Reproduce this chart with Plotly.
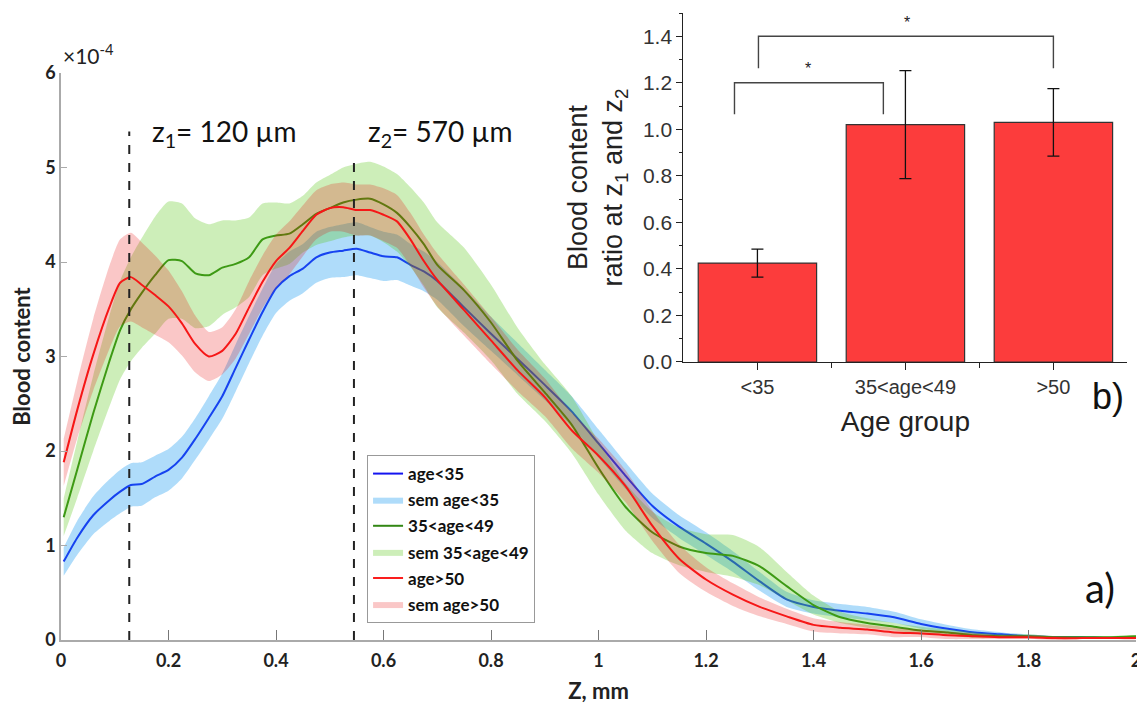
import plotly.graph_objects as go

# ---------------- data: depth profiles (a) ----------------
z_mm = [0.005, 0.03, 0.06, 0.09, 0.11, 0.13, 0.15, 0.175, 0.2, 0.225, 0.25, 0.275, 0.3, 0.325,
        0.35, 0.375, 0.4, 0.425, 0.45, 0.475, 0.5, 0.525, 0.55, 0.575, 0.6, 0.625, 0.65, 0.675,
        0.7, 0.75, 0.8, 0.85, 0.9, 0.95, 1.0, 1.05, 1.1, 1.15, 1.2, 1.25, 1.3, 1.35, 1.4, 1.45,
        1.5, 1.55, 1.6, 1.65, 1.7, 1.75, 1.8, 1.85, 1.9, 1.95, 2.0]

mean_young = [0.83, 1.08, 1.32, 1.48, 1.57, 1.64, 1.65, 1.73, 1.80, 1.93, 2.13, 2.35, 2.58, 2.88,
              3.18, 3.47, 3.72, 3.85, 3.93, 4.05, 4.10, 4.12, 4.14, 4.10, 4.06, 4.05, 3.97, 3.90,
              3.80, 3.52, 3.24, 2.97, 2.70, 2.42, 2.08, 1.74, 1.42, 1.20, 1.02, 0.83, 0.62, 0.43,
              0.35, 0.31, 0.28, 0.24, 0.17, 0.12, 0.08, 0.06, 0.04, 0.03, 0.03, 0.02, 0.03]
sem_young = [0.15, 0.18, 0.20, 0.22, 0.23, 0.23, 0.23, 0.22, 0.22, 0.22, 0.22, 0.23, 0.24, 0.25,
             0.25, 0.25, 0.26, 0.26, 0.26, 0.27, 0.27, 0.28, 0.28, 0.27, 0.26, 0.24, 0.22, 0.21,
             0.20, 0.20, 0.18, 0.17, 0.16, 0.16, 0.15, 0.14, 0.13, 0.12, 0.12, 0.11, 0.10, 0.08,
             0.07, 0.07, 0.07, 0.06, 0.05, 0.04, 0.03, 0.02, 0.02, 0.01, 0.01, 0.01, 0.01]

mean_mid = [1.30, 1.80, 2.40, 2.95, 3.28, 3.50, 3.67, 3.86, 4.02, 4.01, 3.88, 3.86, 3.94, 3.98,
            4.05, 4.24, 4.28, 4.30, 4.40, 4.51, 4.57, 4.63, 4.66, 4.67, 4.61, 4.52, 4.37, 4.19,
            3.97, 3.70, 3.36, 2.95, 2.62, 2.28, 1.82, 1.41, 1.14, 0.99, 0.92, 0.89, 0.78, 0.57,
            0.37, 0.24, 0.18, 0.14, 0.10, 0.08, 0.05, 0.04, 0.04, 0.03, 0.03, 0.03, 0.04]
sem_mid = [0.20, 0.30, 0.40, 0.48, 0.52, 0.55, 0.58, 0.62, 0.62, 0.61, 0.58, 0.54, 0.50, 0.46,
           0.42, 0.38, 0.35, 0.32, 0.30, 0.33, 0.35, 0.37, 0.38, 0.39, 0.40, 0.41, 0.42, 0.44,
           0.45, 0.45, 0.40, 0.35, 0.30, 0.30, 0.28, 0.25, 0.22, 0.20, 0.20, 0.22, 0.20, 0.15,
           0.10, 0.06, 0.05, 0.04, 0.04, 0.03, 0.03, 0.02, 0.02, 0.01, 0.01, 0.01, 0.01]

mean_old = [1.88, 2.43, 3.02, 3.52, 3.78, 3.84, 3.76, 3.65, 3.53, 3.35, 3.13, 3.00, 3.06, 3.24,
            3.52, 3.79, 4.01, 4.15, 4.33, 4.50, 4.57, 4.58, 4.55, 4.55, 4.50, 4.43, 4.24, 4.01,
            3.81, 3.49, 3.17, 2.85, 2.57, 2.22, 1.95, 1.63, 1.21, 0.86, 0.64, 0.48, 0.35, 0.25,
            0.16, 0.13, 0.11, 0.08, 0.07, 0.05, 0.04, 0.03, 0.03, 0.02, 0.02, 0.02, 0.02]
sem_old = [0.25, 0.30, 0.38, 0.44, 0.46, 0.47, 0.45, 0.42, 0.38, 0.34, 0.30, 0.26, 0.25, 0.26,
           0.28, 0.28, 0.28, 0.28, 0.27, 0.26, 0.25, 0.26, 0.27, 0.27, 0.28, 0.28, 0.28, 0.28,
           0.28, 0.27, 0.25, 0.22, 0.20, 0.19, 0.18, 0.17, 0.16, 0.15, 0.13, 0.12, 0.10, 0.08,
           0.07, 0.06, 0.05, 0.05, 0.04, 0.04, 0.03, 0.02, 0.02, 0.02, 0.01, 0.01, 0.01]

series_names = ["age<35", "35<age<49", "age>50"]
z_marks_mm = [0.127, 0.545]          # z1, z2 marker lines
z_marks_top = [5.38, 5.06]

# ---------------- data: ratio bars (b) ----------------
age_groups = ["<35", "35<age<49", ">50"]
ratio_vals = [0.425, 1.02, 1.03]
ratio_err = [0.06, 0.232, 0.145]

# ---------------- styling ----------------
line_colors = ["rgb(20,20,240)", "rgb(50,135,20)", "rgb(250,30,30)"]
band_colors = ["rgba(26,155,240,0.35)", "rgba(88,198,22,0.30)", "rgba(232,0,0,0.22)"]
FONT_MAIN = "Lato"
FONT_INSET = "Liberation Sans"

fig = go.Figure()

groups = [(mean_young, sem_young), (mean_mid, sem_mid), (mean_old, sem_old)]
k = 0
for i, (m, s) in enumerate(groups):
    fig.add_trace(go.Scatter(
        x=z_mm, y=m, mode="lines", name=series_names[i], legendgroup=f"g{k}",
        line=dict(color=line_colors[i], width=2, shape="spline", smoothing=0.6),
        xaxis="x", yaxis="y"))
    k += 1
    upper = [a + b for a, b in zip(m, s)]
    lower = [max(a - b, 0) for a, b in zip(m, s)]
    fig.add_trace(go.Scatter(
        x=z_mm + z_mm[::-1], y=upper + lower[::-1], mode="lines",
        fill="toself", fillcolor=band_colors[i], name="sem " + series_names[i],
        legendgroup=f"g{k}",
        line=dict(width=0, shape="spline", smoothing=0.6),
        hoverinfo="skip", xaxis="x", yaxis="y"))
    k += 1

fig.add_trace(go.Bar(
    x=[0, 1, 2], y=ratio_vals, width=0.8,
    marker=dict(color="rgb(252,60,60)", line=dict(color="#333", width=1.2)),
    error_y=dict(type="data", array=ratio_err, color="#111", thickness=1.3, width=6),
    showlegend=False, xaxis="x2", yaxis="y2"))

shapes = []
for zx, top in zip(z_marks_mm, z_marks_top):
    shapes.append(dict(type="line", xref="x", yref="y", x0=zx, x1=zx, y0=0, y1=top,
                       line=dict(color="#222", width=2, dash="dash"), layer="above"))

# significance brackets in inset (category units)
brackets = [(-0.155, 0.851, 1.20, 1.065), (0.007, 2.0, 1.40, 1.262)]
for x0, x1, ytop, yleg in brackets:
    shapes.append(dict(type="path", xref="x2", yref="y2",
                       path=f"M {x0},{yleg} L {x0},{ytop} L {x1},{ytop} L {x1},{yleg}",
                       line=dict(color="#444", width=1.4)))

MAIN_TOP = 0.9043
annotations = [
    dict(text="×10<sup>-4</sup>", xref="paper", yref="paper", x=0.0, y=0.935,
         xanchor="left", yanchor="middle", showarrow=False,
         font=dict(family=FONT_MAIN, size=21, color="#222")),
    dict(text="z<sub>1</sub>= 120 µm", xref="x", yref="y", x=0.166, y=5.37,
         xanchor="left", yanchor="middle", showarrow=False,
         font=dict(family=FONT_MAIN, size=28, color="#111")),
    dict(text="z<sub>2</sub>= 570 µm", xref="x", yref="y", x=0.567, y=5.37,
         xanchor="left", yanchor="middle", showarrow=False,
         font=dict(family=FONT_MAIN, size=28, color="#111")),
    dict(text="a)", xref="paper", yref="paper", x=0.9665, y=0.083,
         xanchor="center", yanchor="middle", showarrow=False,
         font=dict(family=FONT_MAIN, size=40, color="#111")),
    dict(text="b)", xref="paper", yref="paper", x=0.974, y=0.389,
         xanchor="center", yanchor="middle", showarrow=False,
         font=dict(family=FONT_INSET, size=36, color="#111")),
    dict(text="*", xref="x2", yref="y2", x=0.345, y=1.26, showarrow=False,
         yanchor="middle", font=dict(family=FONT_INSET, size=16, color="#222")),
    dict(text="*", xref="x2", yref="y2", x=1.01, y=1.46, showarrow=False,
         yanchor="middle", font=dict(family=FONT_INSET, size=16, color="#222")),
]

fig.update_layout(
    width=1137, height=704,
    margin=dict(l=61, r=1, t=13, b=64),
    paper_bgcolor="white", plot_bgcolor="white",
    shapes=shapes, annotations=annotations,
    showlegend=True,
    legend=dict(x=0.2847, y=0.295, xanchor="left", yanchor="top",
                bgcolor="white", bordercolor="#999", borderwidth=1,
                font=dict(family=FONT_MAIN, size=17, color="#111", weight="bold"),
                traceorder="grouped", tracegroupgap=1),
    xaxis=dict(domain=[0, 1], range=[0, 2], anchor="y", dtick=0.2, tick0=0,
               automargin=False, ticklabeloverflow="allow",
               showline=True, linecolor="#aaa", linewidth=1.5, mirror=False,
               ticks="inside", ticklen=10, tickcolor="#777", tickwidth=1.2,
               ticklabelstandoff=4,
               showgrid=False, zeroline=False,
               tickfont=dict(family=FONT_MAIN, size=18, color="#222", weight="bold"),
               title=dict(text="Z, mm", standoff=14,
                          font=dict(family=FONT_MAIN, size=22, color="#222", weight="bold"))),
    yaxis=dict(domain=[0, MAIN_TOP], range=[0, 6], anchor="x", dtick=1, tick0=0,
               automargin=False,
               showline=True, linecolor="#aaa", linewidth=1.5,
               ticks="inside", ticklen=6, tickcolor="#aaa",
               showgrid=False, zeroline=False,
               tickfont=dict(family=FONT_MAIN, size=18, color="#222", weight="bold"),
               title=dict(text="Blood content", standoff=8,
                          font=dict(family=FONT_MAIN, size=22, color="#222", weight="bold"))),
    xaxis2=dict(domain=[0.579, 0.992], range=[-0.5, 2.5], anchor="y2",
                automargin=False,
                tickvals=[0, 1, 2], ticktext=age_groups,
                showline=True, linecolor="#222", linewidth=1.2,
                ticks="outside", ticklen=7, tickcolor="#222",
                minor=dict(tickvals=[0.5, 1.5], ticklen=5, tickcolor="#222", ticks="outside"),
                showgrid=False, zeroline=False,
                tickfont=dict(family=FONT_INSET, size=20, color="#333"),
                title=dict(text="Age group", standoff=14,
                           font=dict(family=FONT_INSET, size=28, color="#222"))),
    yaxis2=dict(domain=[0.4434, 1.0], range=[0, 1.5], anchor="x2",
                automargin=False,
                tickvals=[0, 0.2, 0.4, 0.6, 0.8, 1.0, 1.2, 1.4], tickformat=".1f",
                showline=True, linecolor="#222", linewidth=1.2,
                ticks="outside", ticklen=6, tickcolor="#222",
                minor=dict(dtick=0.1, tick0=0, ticklen=3, tickcolor="#222", ticks="outside"),
                showgrid=False, zeroline=False,
                tickfont=dict(family=FONT_INSET, size=21, color="#333"),
                title=dict(text="Blood content<br>ratio at z<sub>1</sub> and z<sub>2</sub>",
                           standoff=12,
                           font=dict(family=FONT_INSET, size=27, color="#222"))),
)

fig.write_html("out.html",
               config={"displayModeBar": False},
               post_script="document.body.style.margin='0px';document.body.style.overflow='hidden';")
